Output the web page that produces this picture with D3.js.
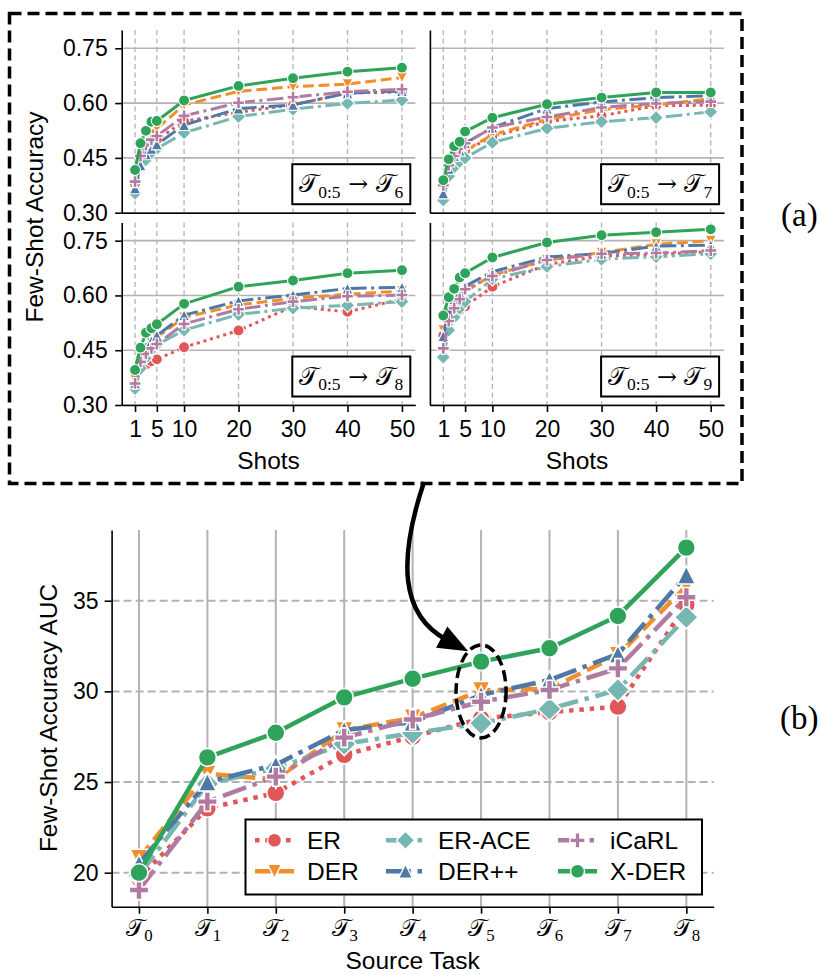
<!DOCTYPE html>
<html>
<head>
<meta charset="utf-8">
<script src="https://cdn.jsdelivr.net/npm/d3@7"></script>
<style>
  html, body { margin: 0; padding: 0; background: #fff; }
  svg { display: block; }
</style>
</head>
<body>
<svg id="fig" width="821" height="975"></svg>
<script>
// ---------------- data ----------------
const shots = [1, 2, 3, 4, 5, 10, 20, 30, 40, 50];
const shotTicks = [1, 5, 10, 20, 30, 40, 50];
const accTicks = [0.30, 0.45, 0.60, 0.75];
const methods = ["ER", "DER", "ER-ACE", "DER++", "iCaRL", "X-DER"];

// few-shot accuracy after training on tasks 0:5, evaluated on task 6
const er6    = [0.380, 0.440, 0.470, 0.490, 0.500, 0.550, 0.575, 0.595, 0.628, 0.630];
const der6   = [0.376, 0.440, 0.490, 0.515, 0.530, 0.595, 0.632, 0.645, 0.652, 0.670];
const erace6 = [0.353, 0.430, 0.445, 0.465, 0.475, 0.519, 0.563, 0.583, 0.599, 0.608];
const derpp6 = [0.367, 0.430, 0.460, 0.475, 0.487, 0.540, 0.585, 0.595, 0.627, 0.633];
const icarl6 = [0.385, 0.455, 0.485, 0.500, 0.510, 0.565, 0.601, 0.616, 0.631, 0.638];
const xder6  = [0.417, 0.490, 0.524, 0.549, 0.551, 0.607, 0.647, 0.668, 0.686, 0.697];

// ... evaluated on task 7
const er7    = [0.375, 0.410, 0.440, 0.455, 0.470, 0.508, 0.550, 0.565, 0.593, 0.594];
const der7   = [0.365, 0.410, 0.440, 0.455, 0.470, 0.513, 0.555, 0.582, 0.595, 0.612];
const erace7 = [0.335, 0.400, 0.425, 0.440, 0.450, 0.492, 0.531, 0.549, 0.560, 0.576];
const derpp7 = [0.353, 0.420, 0.455, 0.470, 0.490, 0.533, 0.585, 0.603, 0.615, 0.620];
const icarl7 = [0.375, 0.430, 0.455, 0.475, 0.490, 0.533, 0.562, 0.588, 0.599, 0.604];
const xder7  = [0.389, 0.446, 0.482, 0.494, 0.522, 0.560, 0.597, 0.615, 0.629, 0.629];

// ... evaluated on task 8
const er8    = [0.388, 0.400, 0.410, 0.420, 0.425, 0.458, 0.504, 0.570, 0.555, 0.590];
const der8   = [0.370, 0.420, 0.450, 0.470, 0.485, 0.540, 0.574, 0.592, 0.603, 0.612];
const erace8 = [0.345, 0.400, 0.430, 0.450, 0.465, 0.505, 0.548, 0.565, 0.573, 0.583];
const derpp8 = [0.360, 0.430, 0.460, 0.475, 0.490, 0.546, 0.585, 0.601, 0.619, 0.622];
const icarl8 = [0.359, 0.418, 0.440, 0.455, 0.467, 0.522, 0.562, 0.583, 0.598, 0.601];
const xder8  = [0.396, 0.457, 0.498, 0.510, 0.521, 0.577, 0.624, 0.641, 0.661, 0.669];

// ... evaluated on task 9
const er9    = [0.490, 0.530, 0.550, 0.560, 0.570, 0.624, 0.685, 0.708, 0.712, 0.720];
const der9   = [0.505, 0.550, 0.580, 0.600, 0.610, 0.656, 0.697, 0.717, 0.740, 0.750];
const erace9 = [0.431, 0.505, 0.540, 0.565, 0.583, 0.645, 0.679, 0.699, 0.706, 0.714];
const derpp9 = [0.489, 0.560, 0.590, 0.610, 0.625, 0.665, 0.705, 0.715, 0.735, 0.738];
const icarl9 = [0.455, 0.530, 0.565, 0.590, 0.617, 0.653, 0.697, 0.714, 0.716, 0.723];
const xder9  = [0.545, 0.595, 0.618, 0.649, 0.661, 0.704, 0.745, 0.765, 0.773, 0.781];

// few-shot accuracy AUC per source task
const sourceTasks = ["0", "1", "2", "3", "4", "5", "6", "7", "8"];
const aucTicks = [20, 25, 30, 35];
const aucER    = [19.70, 23.55, 24.40, 26.50, 27.50, 28.50, 28.85, 29.16, 34.77];
const aucDER   = [20.80, 25.45, 25.15, 27.85, 28.55, 30.05, 30.15, 32.00, 35.80];
const aucERACE = [19.85, 24.90, 25.75, 27.10, 27.70, 28.24, 29.03, 30.08, 34.09];
const aucDERpp = [20.50, 25.00, 25.95, 27.87, 28.30, 29.80, 30.63, 32.06, 36.42];
const aucICARL = [19.05, 23.92, 25.30, 27.45, 28.45, 29.43, 30.08, 31.27, 35.19];
const aucXDER  = [20.00, 26.36, 27.72, 29.67, 30.70, 31.64, 32.38, 34.16, 37.93];

// ---------------- styling ----------------
const SANS  = "'Liberation Sans', Arial, Helvetica, sans-serif";
const SERIF = "'Liberation Serif', 'Times New Roman', serif";
const MATH  = "'DejaVu Serif', 'DejaVu Sans', 'Liberation Serif', serif";
const GRID  = "#b3b3b3";

const style = {
  "ER":     { color: "#e15759", dash: "dot",     marker: "circle"  },
  "DER":    { color: "#f28e2b", dash: "dash",    marker: "triDown" },
  "ER-ACE": { color: "#76b7b2", dash: "dashdot", marker: "diamond" },
  "DER++":  { color: "#4e79a7", dash: "dashdot", marker: "triUp"   },
  "iCaRL":  { color: "#b07aa1", dash: "dashdot", marker: "plus"    },
  "X-DER":  { color: "#2fa35a", dash: "solid",   marker: "circle"  }
};
const dashMult = { solid: null, dot: [1.0, 1.3], dash: [3.6, 1.6], dashdot: [5.5, 1.5, 1.0, 1.5] };
function dashArray(kind, lw) {
  const m = dashMult[kind];
  return m ? m.map(v => (v * lw).toFixed(2)).join(",") : null;
}

function markerPath(kind, ms) {
  const r = ms / 2;
  switch (kind) {
    case "circle":  return `M${r},0A${r},${r},0,1,1,${-r},0A${r},${r},0,1,1,${r},0Z`;
    case "triUp":   return `M0,${-r}L${r},${r}L${-r},${r}Z`;
    case "triDown": return `M0,${r}L${r},${-r}L${-r},${-r}Z`;
    case "diamond": { const h = 0.65 * ms; return `M0,${-h}L${h},0L0,${h}L${-h},0Z`; }
    case "plus": {
      const a = 0.54 * ms, t = ms / 6;
      return `M${-t},${-a}H${t}V${-t}H${a}V${t}H${t}V${a}H${-t}V${t}H${-a}V${-t}H${-t}Z`;
    }
  }
}

function drawSeries(g, xs, ys, m, x, y, lw, ms, ew) {
  const st = style[m];
  const line = d3.line().x((d, i) => x(xs[i])).y(d => y(d));
  g.append("path").datum(ys)
    .attr("d", line)
    .attr("fill", "none")
    .attr("stroke", st.color)
    .attr("stroke-width", lw)
    .attr("stroke-dasharray", dashArray(st.dash, lw))
    .attr("stroke-linejoin", "round")
    .attr("stroke-linecap", "butt");
  g.append("g").selectAll("path").data(ys).join("path")
    .attr("transform", (d, i) => `translate(${x(xs[i])},${y(d)})`)
    .attr("d", markerPath(st.marker, ms))
    .attr("fill", st.color)
    .attr("stroke", "#fff")
    .attr("stroke-width", ew);
}

// calligraphic T with a subscript, written into a <text> element
function addT(text, sub, size) {
  text.append("tspan").attr("font-family", MATH).attr("font-size", size).text("\u{1D4AF}");
  text.append("tspan").attr("font-family", SERIF).attr("font-size", size * 0.7)
    .attr("dy", size * 0.22).text(sub);
  return size * 0.22;
}

function styleAxis(sel, fontSize) {
  sel.attr("font-size", null).attr("font-family", null);
  sel.select(".domain").attr("stroke", "#000").attr("stroke-width", 1.6);
  sel.selectAll(".tick line").attr("stroke", "#000").attr("stroke-width", 1.6);
  sel.selectAll(".tick text").attr("fill", "#000")
    .attr("font-family", SANS).attr("font-size", fontSize);
}

const svg = d3.select("#fig");

// ---------------- (a) few-shot accuracy panels ----------------
const panels = [
  { target: "6", series: [er6, der6, erace6, derpp6, icarl6, xder6], x0: 121.7, x1: 415.3, y0: 30,    y1: 212.7, yLabels: true,  xLabels: false },
  { target: "7", series: [er7, der7, erace7, derpp7, icarl7, xder7], x0: 429.9, x1: 724.1, y0: 30,    y1: 212.7, yLabels: false, xLabels: false },
  { target: "8", series: [er8, der8, erace8, derpp8, icarl8, xder8], x0: 121.7, x1: 415.3, y0: 222.4, y1: 405,   yLabels: true,  xLabels: true  },
  { target: "9", series: [er9, der9, erace9, derpp9, icarl9, xder9], x0: 429.9, x1: 724.1, y0: 222.4, y1: 405,   yLabels: false, xLabels: true  }
];

panels.forEach(p => {
  const x = d3.scaleLinear().domain([-1.45, 52.45]).range([p.x0, p.x1]);
  const y = d3.scaleLinear().domain([0.3, 0.8]).range([p.y1, p.y0]);
  const g = svg.append("g");

  g.append("g").selectAll("line").data(accTicks).join("line")
    .attr("x1", p.x0).attr("x2", p.x1)
    .attr("y1", d => y(d)).attr("y2", d => y(d))
    .attr("stroke", GRID).attr("stroke-width", 1.6);
  g.append("g").selectAll("line").data(shotTicks).join("line")
    .attr("x1", d => x(d)).attr("x2", d => x(d))
    .attr("y1", p.y0).attr("y2", p.y1)
    .attr("stroke", GRID).attr("stroke-width", 1.3).attr("stroke-dasharray", "5,3.5");

  methods.forEach((m, k) => drawSeries(g, shots, p.series[k], m, x, y, 3, 11, 1.1));

  const ay = d3.axisLeft(y).tickValues(p.yLabels ? accTicks : [])
    .tickSize(6.5).tickPadding(7.5).tickSizeOuter(0).tickFormat(d3.format(".2f"));
  styleAxis(g.append("g").attr("transform", `translate(${p.x0},0)`).call(ay), 23);

  const ax = d3.axisBottom(x).tickValues(p.xLabels ? shotTicks : [])
    .tickSize(7).tickPadding(9).tickSizeOuter(0).tickFormat(d3.format("d"));
  styleAxis(g.append("g").attr("transform", `translate(0,${p.y1})`).call(ax), 23);

  if (p.xLabels) {
    g.append("text").attr("x", (p.x0 + p.x1) / 2).attr("y", 469)
      .attr("text-anchor", "middle").attr("font-family", SANS).attr("font-size", 24.5)
      .text("Shots");
  }

  // transfer label box
  const bw = 118, bh = 40;
  const bx = p.x1 - 5 - bw, by = p.y1 - 8.5 - bh;
  g.append("rect").attr("x", bx).attr("y", by).attr("width", bw).attr("height", bh)
    .attr("fill", "#fff").attr("stroke", "#000").attr("stroke-width", 2);
  const t = g.append("text").attr("x", bx + bw / 2).attr("y", by + bh / 2 + 8)
    .attr("text-anchor", "middle").attr("fill", "#000");
  const s = 25;
  const d1 = addT(t, "0:5", s);
  t.append("tspan").attr("font-family", MATH).attr("font-size", s * 0.95).attr("dy", -d1).text(" \u2192 ");
  addT(t, p.target, s);
});

svg.append("text")
  .attr("transform", "translate(43,217) rotate(-90)")
  .attr("text-anchor", "middle").attr("font-family", SANS).attr("font-size", 24.5)
  .text("Few-Shot Accuracy");

// ---------------- (b) few-shot accuracy AUC ----------------
const aucSeries = [aucER, aucDER, aucERACE, aucDERpp, aucICARL, aucXDER];
const taskIdx = sourceTasks.map((d, i) => i);
const xb = d3.scaleLinear().domain([-0.4, 8.4]).range([111.6, 713.7]);
const yb = d3.scaleLinear().domain([18.125, 38.9]).range([906.7, 530]);
const gb = svg.append("g");

gb.append("g").selectAll("line").data(taskIdx).join("line")
  .attr("x1", d => xb(d)).attr("x2", d => xb(d))
  .attr("y1", yb.range()[1]).attr("y2", yb.range()[0])
  .attr("stroke", GRID).attr("stroke-width", 2);
gb.append("g").selectAll("line").data(aucTicks).join("line")
  .attr("x1", xb.range()[0]).attr("x2", xb.range()[1])
  .attr("y1", d => yb(d)).attr("y2", d => yb(d))
  .attr("stroke", GRID).attr("stroke-width", 2).attr("stroke-dasharray", "8,4");

methods.forEach((m, k) => drawSeries(gb, taskIdx, aucSeries[k], m, xb, yb, 4.5, 18, 1.6));

styleAxis(gb.append("g").attr("transform", `translate(${xb.range()[0]},0)`)
  .call(d3.axisLeft(yb).tickValues(aucTicks).tickSize(7).tickPadding(6).tickSizeOuter(0).tickFormat(d3.format("d"))), 23);

const gx = gb.append("g").attr("transform", `translate(0,${yb.range()[0]})`)
  .call(d3.axisBottom(xb).tickValues(taskIdx).tickSize(7).tickPadding(9).tickSizeOuter(0).tickFormat(""));
styleAxis(gx, 24);
gx.selectAll(".tick text").each(function(d) {
  const t = d3.select(this).attr("y", 12).attr("dy", "0.71em");
  addT(t, sourceTasks[d], 24);
});

gb.append("text").attr("x", (xb.range()[0] + xb.range()[1]) / 2).attr("y", 969)
  .attr("text-anchor", "middle").attr("font-family", SANS).attr("font-size", 24.5)
  .text("Source Task");
svg.append("text")
  .attr("transform", "translate(57,718) rotate(-90)")
  .attr("text-anchor", "middle").attr("font-family", SANS).attr("font-size", 24.5)
  .text("Few-Shot Accuracy AUC");

// legend (column-major: ER, DER | ER-ACE, DER++ | iCaRL, X-DER)
const lg = svg.append("g");
lg.append("rect").attr("x", 245.5).attr("y", 819.5).attr("width", 456.5).attr("height", 75)
  .attr("fill", "#fff").attr("stroke", "#000").attr("stroke-width", 2);
const colX = [255, 386, 558], rowY = [840.3, 871.3], handleLen = 39;
methods.forEach((m, k) => {
  const cx = colX[Math.floor(k / 2)], cy = rowY[k % 2];
  const st = style[m];
  const hx = d3.scaleLinear().domain([0, 1]).range([cx, cx + handleLen]);
  const hy = () => cy;
  lg.append("path").datum([0, 1])
    .attr("d", d3.line().x(d => hx(d)).y(hy))
    .attr("fill", "none").attr("stroke", st.color).attr("stroke-width", 4.5)
    .attr("stroke-dasharray", dashArray(st.dash, 4.5));
  lg.append("path").attr("transform", `translate(${hx(0.5)},${cy})`)
    .attr("d", markerPath(st.marker, 14)).attr("fill", st.color)
    .attr("stroke", "#fff").attr("stroke-width", 1.4);
  lg.append("text").attr("x", cx + 52).attr("y", cy + 8.7)
    .attr("font-family", SANS).attr("font-size", 24.5).text(m);
});

// highlight of the T5 column
svg.append("ellipse").attr("cx", xb(5)).attr("cy", yb(30)).attr("rx", 25).attr("ry", 46.5)
  .attr("fill", "none").attr("stroke", "#000").attr("stroke-width", 3.5)
  .attr("stroke-dasharray", "11,5");

// ---------------- frame around (a) and connecting arrow ----------------
svg.append("rect").attr("x", 9.5).attr("y", 13.5).attr("width", 732.5).attr("height", 470)
  .attr("fill", "none").attr("stroke", "#000").attr("stroke-width", 3.5)
  .attr("stroke-dasharray", "12,6");

const p0 = [424, 482], c1 = [398, 560], c2 = [400, 615], p3 = [447, 640];
svg.append("path")
  .attr("d", `M${p0}C${c1} ${c2} ${p3}`)
  .attr("fill", "none").attr("stroke", "#000").attr("stroke-width", 4.5);
{
  const dx = p3[0] - c2[0], dy = p3[1] - c2[1], L = Math.hypot(dx, dy);
  const ux = dx / L, uy = dy / L, nx = -uy, ny = ux;
  const headLen = 30, headW = 12;
  const tip = [p3[0] + ux * (headLen - 6), p3[1] + uy * (headLen - 6)];
  const base = [tip[0] - ux * headLen, tip[1] - uy * headLen];
  svg.append("path")
    .attr("d", `M${tip}L${base[0] + nx * headW},${base[1] + ny * headW}L${base[0] - nx * headW},${base[1] - ny * headW}Z`)
    .attr("fill", "#000");
}

// panel tags
svg.append("text").attr("x", 781).attr("y", 226).attr("font-family", SERIF).attr("font-size", 33).text("(a)");
svg.append("text").attr("x", 780).attr("y", 729).attr("font-family", SERIF).attr("font-size", 33).text("(b)");
</script>
</body>
</html>
